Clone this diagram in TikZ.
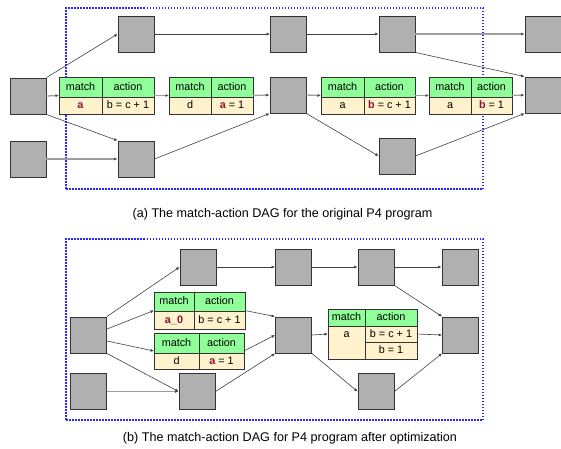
\documentclass[tikz,border=0pt]{standalone}
\usepackage{fontspec}
\setmainfont{Liberation Sans}
\usetikzlibrary{arrows.meta,fit}
\definecolor{boxgray}{RGB}{176,176,176}
\definecolor{hdrgreen}{RGB}{144,255,153}
\definecolor{bodyyel}{RGB}{255,242,204}
\definecolor{varred}{RGB}{140,20,50}
\definecolor{dagblue}{RGB}{40,40,255}
\newcommand{\rv}[1]{\textbf{\textcolor{varred}{#1}}}
% \matab{name}{x}{y}{w match}{w action}{h header}{h body}{key}{action}
\newcommand{\matab}[9]{%
  \node[hdr, minimum width=#4pt, minimum height=#6pt] (#1m) at (#2,#3) {match};
  \node[hdr, minimum width=#5pt, minimum height=#6pt] (#1a) at (#1m.north east) {action};
  \node[bodyc, minimum width=#4pt, minimum height=#7pt] (#1k) at (#1m.south west) {#8};
  \node[bodyc, minimum width=#5pt, minimum height=#7pt] (#1v) at (#1m.south east) {#9};
  \node[tframe, fit=(#1m)(#1v)] (#1) {};
}
\begin{document}
\begin{tikzpicture}[x=1pt,y=-1pt,
  font=\fontsize{10.8}{12}\selectfont,
  gbox/.style={draw=black!80, fill=boxgray, line width=0.9pt, minimum width=36pt, minimum height=36pt, inner sep=0pt},
  cellbase/.style={draw=black!80, line width=0.8pt, inner sep=0pt, outer sep=0pt, anchor=north west, text height=7.6pt, text depth=1.4pt},
  hdr/.style={cellbase, fill=hdrgreen},
  bodyc/.style={cellbase, fill=bodyyel},
  tframe/.style={draw=black!80, line width=0.8pt, inner sep=0pt, outer sep=0pt},
  dl/.style={draw=black!75, line width=0.6pt, -{Latex[length=3.5pt,width=3pt]}},
  gl/.style={draw=black!38, line width=1.3pt, -{Latex[length=3.5pt,width=3pt,color=black!70]}},
  dagframe/.style={draw=dagblue, line width=1.5pt, dash pattern=on 1.5pt off 1.5pt},
  captxt/.style={font=\fontsize{12.6}{14}\selectfont, inner sep=0pt}
]
\useasboundingbox (0,0) rectangle (561,448);

% ---------------- (a) ----------------
\node[dagframe, minimum width=417pt, minimum height=181pt, inner sep=0pt] (fa) at (274.5,98.5) {};

\node[gbox] (A0) at (28,96) {};
\node[gbox] (A1) at (28,159) {};
\node[gbox] (T1) at (136,34) {};
\node[gbox] (B1) at (136,159) {};
\node[gbox] (T2) at (288.5,34) {};
\node[gbox] (M) at (288,95) {};
\node[gbox] (T3) at (397,34) {};
\node[gbox] (B2) at (397,156) {};
\node[gbox] (T4) at (543,34) {};
\node[gbox] (R) at (543,95) {};

\matab{ta}{59}{77}{43}{52}{20}{17}{\rv{a}}{b = c + 1}
\matab{tb}{169}{77}{42}{42}{20}{17}{d}{\rv{a} = 1}
\matab{tc}{321}{77}{43}{51}{20}{17}{a}{\rv{b} = c + 1}
\matab{td}{429}{77}{42}{41}{20}{17}{a}{\rv{b} = 1}

\draw[gl] (A0.east) -- (ta.west);
\draw[gl] (ta.east) -- (tb.west);
\draw[gl] (tb.east) -- (M.west);
\draw[gl] (M.east) -- (tc.west);
\draw[gl] (tc.east) -- (td.west);
\draw[gl] (td.east) -- (R.west);
\draw[gl] (A1.east) -- (B1.west);
\draw[gl] (T3.east) -- (T4.west);
\draw[dl] (A0.north east) -- (T1.west);
\draw[dl] (A0.south east) -- (B1.north west);
\draw[dl] (B1.east) -- (M.south west);
\draw[dl] (T1.east) -- (T2.west);
\draw[dl] (T2.east) -- (T3.west);
\draw[dl] (M.south east) -- (B2.west);
\draw[dl] (T3.south east) -- (R.north west);
\draw[dl] (B2.east) -- (R.south west);

\node[captxt] (capa) at (282.5,214) {(a) The match-action DAG for the original P4 program};

% ---------------- (b) ----------------
\node[dagframe, minimum width=417pt, minimum height=181pt, inner sep=0pt] (fb) at (274.5,329.5) {};

\node[gbox] (Ab) at (88.5,335) {};
\node[gbox] (A1b) at (88.5,391.5) {};
\node[gbox] (T1b) at (198,267) {};
\node[gbox] (B1b) at (197,391.5) {};
\node[gbox] (T2b) at (293.5,267) {};
\node[gbox] (Mb) at (293.5,335) {};
\node[gbox] (T3b) at (376,267) {};
\node[gbox] (B2b) at (376,391.5) {};
\node[gbox] (T4b) at (460,267) {};
\node[gbox] (Rb) at (460.5,335) {};

\matab{ua}{154}{292}{40}{51}{19}{18}{\rv{a\_0}}{b = c + 1}
\matab{ub}{154}{333}{45}{45}{20}{16}{d}{\rv{a} = 1}

\node[hdr, minimum width=37pt, minimum height=17pt] (ucm) at (328,309) {match};
\node[hdr, minimum width=52pt, minimum height=17pt] (uca) at (ucm.north east) {action};
\node[bodyc, minimum width=37pt, minimum height=33pt] (uck) at (ucm.south west) {};
\node[inner sep=0pt, text height=7.6pt, text depth=1.4pt] (ucktext) at ([yshift=-8pt]uck.north) {a};
\node[bodyc, minimum width=52pt, minimum height=16pt] (ucv1) at (ucm.south east) {b = c + 1};
\node[bodyc, minimum width=52pt, minimum height=17pt] (ucv2) at (ucv1.south west) {b = 1};
\node[tframe, fit=(ucm)(ucv2)] (uc) {};

\draw[dl] (Ab.north east) -- (T1b.west);
\draw[dl] ([yshift=6pt]Ab.east) -- (ua.west);
\draw[dl] ([yshift=-6pt]Ab.east) -- (ub.west);
\draw[dl] (Ab.south east) -- (B1b.west);
\draw[gl] (A1b.east) -- (B1b.west);
\draw[dl] (T1b.east) -- (T2b.west);
\draw[dl] (ua.east) -- (Mb.north west);
\draw[dl] (ub.east) -- (Mb.west);
\draw[dl] (B1b.east) -- (Mb.south west);
\draw[dl] (T2b.east) -- (T3b.west);
\draw[dl] (Mb.east) -- (uc.west);
\draw[dl] (Mb.south east) -- (B2b.west);
\draw[dl] (T3b.east) -- (T4b.west);
\draw[dl] (T3b.south east) -- (Rb.north west);
\draw[dl] (uc.east) -- (Rb.west);
\draw[dl] (B2b.east) -- (Rb.south west);

\node[captxt] (capb) at (290,438) {(b) The match-action DAG for P4 program after optimization};
\end{tikzpicture}
\end{document}
